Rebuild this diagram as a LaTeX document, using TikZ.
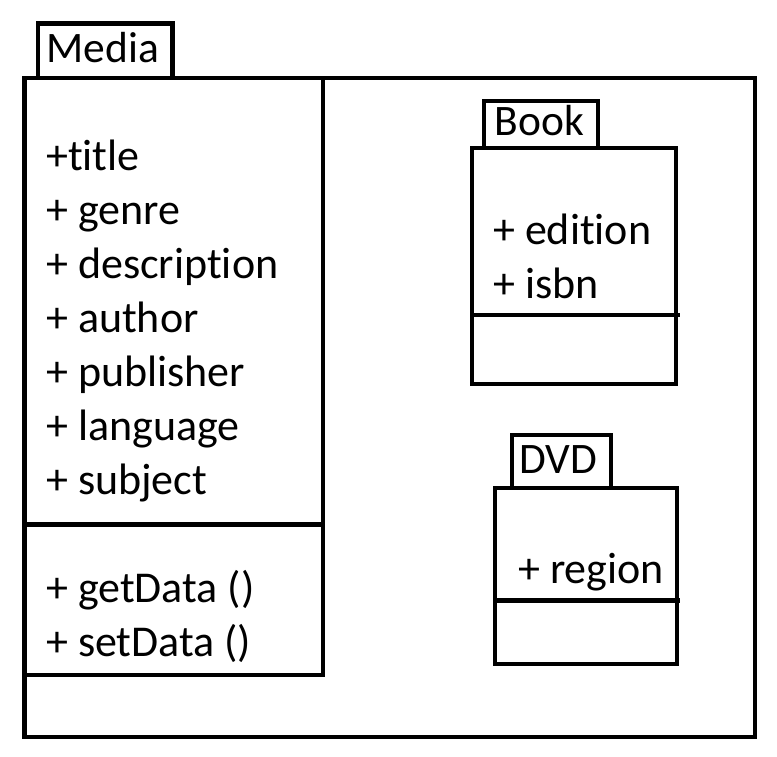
\documentclass[tikz,border=0pt]{standalone}
\usepackage{fontspec}
\setmainfont{Carlito}[Ligatures={NoCommon}]
\begin{document}
\begin{tikzpicture}[x=1pt,y=-1pt,
  frame/.style={draw=black,line width=4.6pt,line join=miter},
  tabbox/.style={draw=black,fill=white,line width=4.6pt,line join=miter},
  txt/.style={anchor=base west,inner sep=0pt,font=\fontsize{44}{54}\selectfont},
  tabtxt/.style={anchor=base west,inner sep=0pt,font=\fontsize{43.5}{54}\selectfont}]
\useasboundingbox (0,0) rectangle (777,756);
% outer package frame
\draw[frame] (24.3,78) rectangle (755,737);
% Media class box
\draw[frame] (24.3,78) rectangle (323,675);
\draw[frame] (24.3,524.5) -- (323,524.5);
\draw[tabbox] (38,23.5) rectangle (172.5,78);
\node[tabtxt] (mediaT) at (46.5,62.5) {Media};
\foreach \t [count=\i from 0] in {+title,+ genre,+ description,+ author,+ publisher,+ language,+ subject}
  \node[txt] (ma\i) at (46,170+54*\i) {\t};
\node[txt] (mm0) at (46,602) {+ getData ()};
\node[txt] (mm1) at (46,656) {+ setData ()};
% Book
\draw[frame] (472,148) rectangle (676,384);
\draw[frame] (472,315) -- (680,315);
\draw[tabbox] (484,101) rectangle (598,148);
\node[tabtxt] (bookT) at (494.5,135) {Book};
\node[txt] (ba0) at (493,244) {+ edition};
\node[txt] (ba1) at (493,298) {+ isbn};
% DVD
\draw[frame] (495,488) rectangle (677,664);
\draw[frame] (495,600.7) -- (680,600.7);
\draw[tabbox] (512,435) rectangle (611,488);
\node[tabtxt] (dvdT) at (519.5,473.5) {DVD};
\node[txt] (da0) at (518,583.5) {+ region};
\end{tikzpicture}
\end{document}
